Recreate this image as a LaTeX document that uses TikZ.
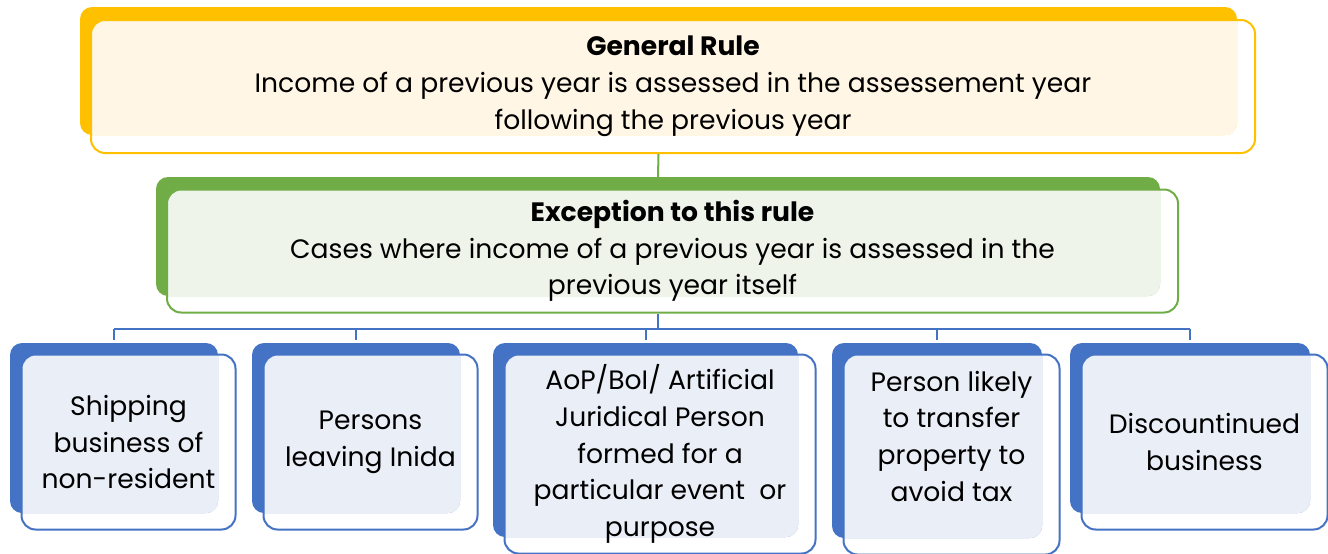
\documentclass[tikz,border=0pt]{standalone}
\usepackage{fontspec}
\setmainfont{Poppins}
\usetikzlibrary{positioning}

\definecolor{ruleyellow}{HTML}{FFC000}
\definecolor{rulecream}{HTML}{FFF6E5}
\definecolor{excgreen}{HTML}{70AD47}
\definecolor{excmint}{HTML}{EEF4EA}
\definecolor{caseblue}{HTML}{4472C4}
\definecolor{casepale}{HTML}{E9EEF7}

\tikzset{
	plate/.style={fill=#1, rounded corners=12pt, inner sep=0pt},
	face/.style={draw=#1, line width=2pt, rounded corners=14pt, inner sep=0pt,
		align=center, font=\fontsize{26.6}{36.8}\selectfont},
	link/.style={draw=#1, line width=2pt}
}

\begin{document}
\begin{tikzpicture}[x=1pt,y=-1pt]
		\useasboundingbox (0,0) rectangle (1328,554);
		
		% general rule
		\node[plate=ruleyellow, minimum width=1157pt, minimum height=128pt] (ruleb) at (658.5,71) {};
		\node[face=ruleyellow, minimum width=1164pt, minimum height=133pt,
			path picture={\fill[rulecream, rounded corners=12pt] (ruleb.north west) rectangle (ruleb.south east);}]
			(rule) at (673,86.5) {\textbf{General Rule}\\Income of a previous year is assessed in the assessement year\\following the previous year};
		
		% exception
		\node[plate=excgreen, minimum width=1004pt, minimum height=119pt] (excb) at (658,236.5) {};
		\node[face=excgreen, minimum width=1011pt, minimum height=123pt,
			path picture={\fill[excmint, rounded corners=12pt] (excb.north west) rectangle (excb.south east);}]
			(exc) at (672.5,251) {\textbf{Exception to this rule}\\Cases where income of a previous year is assessed in the\\previous year itself};
		
		\draw[link=excgreen] (ruleb.south |- rule.south) -- (excb.north);
		
		% cases
		\foreach \nm/\cx/\cy/\w/\h/\txt in {
			ship/114/428/208/170/{Shipping\\business of\\non-resident},
			leave/356/428/208/170/{Persons\\leaving Inida},
			aop/645.5/440/305/194/{AoP/BoI/ Artificial\\Juridical Person\\formed for a\\particular event ~or\\purpose},
			transfer/937/440.5/210/195/{Person likely\\to transfer\\property to\\avoid tax\\ },
			quit/1190/428/240/170/{Discountinued\\business}}{
			\pgfmathsetmacro{\fw}{\w+6}
			\pgfmathsetmacro{\fh}{\h+5}
			\node[plate=caseblue, minimum width=\w pt, minimum height=\h pt] (\nm b) at (\cx,\cy) {};
			\node[face=caseblue, minimum width=\fw pt, minimum height=\fh pt,
				path picture={\fill[casepale, rounded corners=12pt] (\nm b.north west) rectangle (\nm b.south east);}]
				(\nm) at ([shift={(14.5,14)}]\nm b.center) {\txt};
		}
		
		\coordinate (bus) at (658,329);
		\draw[link=caseblue] (excb.south |- exc.south) -- (bus);
		\draw[link=caseblue] (shipb.north |- bus) -- (quitb.north |- bus);
		\foreach \nm in {ship,leave,aop,transfer,quit}{
			\draw[link=caseblue, shorten >=3pt] (\nm b.north |- bus) -- (\nm b.north);
		}
	\end{tikzpicture}
\end{document}
